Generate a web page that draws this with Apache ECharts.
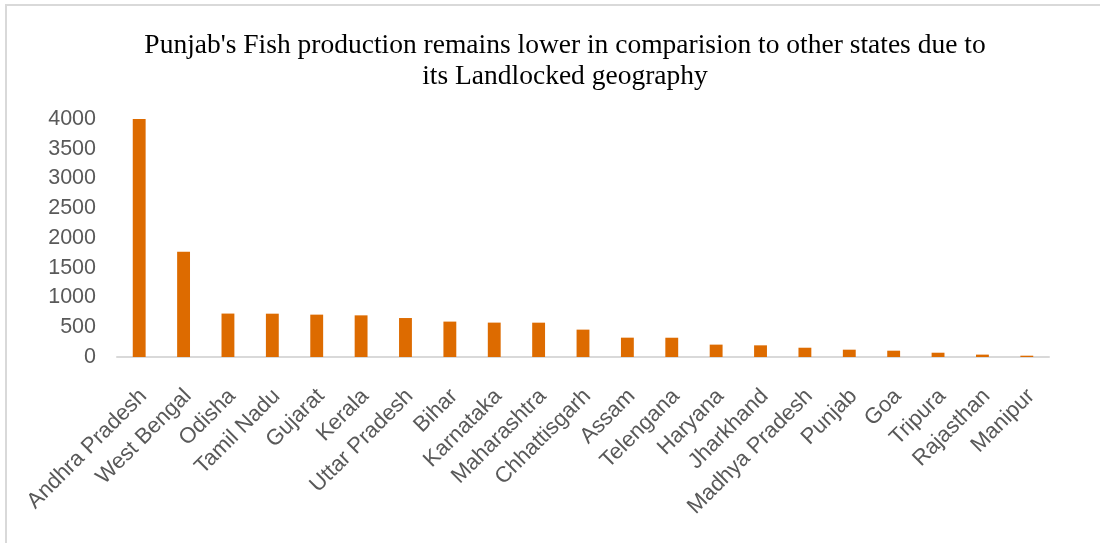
<!DOCTYPE html>
<html><head><meta charset="utf-8">
<script src="https://cdn.jsdelivr.net/npm/echarts@6/dist/echarts.min.js"></script>
<style>html,body{margin:0;padding:0;background:#fff}#c{width:1100px;height:543px}</style>
</head><body><div id="c"></div>
<script>
const categories = ["Andhra Pradesh","West Bengal","Odisha","Tamil Nadu","Gujarat","Kerala","Uttar Pradesh","Bihar","Karnataka","Maharashtra","Chhattisgarh","Assam","Telengana","Haryana","Jharkhand","Madhya Pradesh","Punjab","Goa","Tripura","Rajasthan","Manipur"];
const production = [4000,1770,730,728,712,700,655,595,578,577,460,325,324,208,196,156,123,106,72,40,22];
const yTicks = [0,500,1000,1500,2000,2500,3000,3500,4000];
const chart = echarts.init(document.getElementById('c'));
chart.setOption({
  animation:false,
  title:{text:"Punjab's Fish production remains lower in comparision to other states due to\nits Landlocked geography",left:560,textAlign:'center',top:25,
    textStyle:{fontFamily:'Liberation Serif',fontSize:27.5,fontWeight:'normal',color:'#000',lineHeight:31}},
  graphic:[{type:'polyline',shape:{points:[[6,543],[6,5],[1100,5]]},style:{stroke:'#d9d9d9',lineWidth:2,fill:null}}],
  grid:{left:117,right:51,top:119,bottom:186,containLabel:false},
  xAxis:{type:'category',data:categories,
    axisLine:{lineStyle:{color:'#d9d9d9',width:2}},axisTick:{show:false},
    axisLabel:{rotate:45,interval:0,fontFamily:'Liberation Sans',fontSize:22,color:'#595959',margin:40,padding:[11,-6,0,0]}},
  yAxis:{type:'value',min:0,max:4000,interval:500,
    axisLine:{show:false},axisTick:{show:false},splitLine:{show:false},
    axisLabel:{fontFamily:'Liberation Sans',fontSize:21.5,color:'#595959',margin:21,
      formatter:v=>yTicks.includes(v)?String(v):''}},
  series:[{type:'bar',data:production,barWidth:'29%',itemStyle:{color:'#dd6b00'}}]
});
</script></body></html>
